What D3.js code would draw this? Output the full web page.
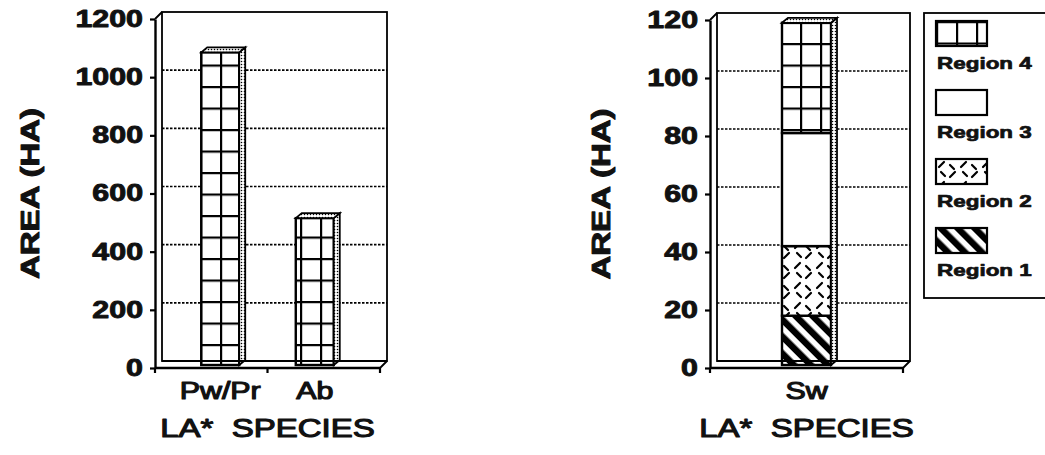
<!DOCTYPE html>
<html lang="en">
<head>
<meta charset="UTF-8" />
<title>LA* species - area by region</title>
<script src="https://d3js.org/d3.v7.min.js"></script>
<style>
    body { margin: 0; background: #fff; }
    text { font-family: "Liberation Sans", Arial, sans-serif; fill: #111; }
</style>
</head>
<body>
<script>
    // left panel: one series (region 4 pattern)
    var leftSpecies = ["Pw/Pr", "Ab"];
    var leftArea = [1075, 505];
    var leftTicks = [0, 200, 400, 600, 800, 1000, 1200];

    // right panel: stacked by region
    var rightSpecies = ["Sw"];
    var regions = ["Region 1", "Region 2", "Region 3", "Region 4"];
    var swArea = [17, 24, 39, 38];
    var rightTicks = [0, 20, 40, 60, 80, 100, 120];

    var w = 1045, h = 455;
    var depth = 7;        // back wall offset
    var bdx = 6, bdy = -5; // bar depth
    var barLift = 3;      // bars sit a little behind the front axis
    var k = 1.32;         // wide typeface look

    var svg = d3.select("body").append("svg")
        .attr("width", w).attr("height", h);
    svg.append("rect").attr("width", w).attr("height", h).attr("fill", "#fff");

    var defs = svg.append("defs");

    // patterns
    var p = defs.append("pattern").attr("id", "grid")
        .attr("patternUnits", "userSpaceOnUse").attr("width", 20).attr("height", 21.5);
    p.append("rect").attr("width", 20).attr("height", 21.5).attr("fill", "#fff");
    p.append("path").attr("d", "M0,1H20M1,0V21.5").attr("stroke", "#000").attr("stroke-width", 2.4);

    p = defs.append("pattern").attr("id", "stripes")
        .attr("patternUnits", "userSpaceOnUse").attr("width", 12).attr("height", 12)
        .attr("patternTransform", "rotate(-45)");
    p.append("rect").attr("width", 12).attr("height", 12).attr("fill", "#fff");
    p.append("rect").attr("width", 6.5).attr("height", 12).attr("fill", "#000");

    p = defs.append("pattern").attr("id", "dashes")
        .attr("patternUnits", "userSpaceOnUse").attr("width", 22).attr("height", 20);
    p.append("rect").attr("width", 22).attr("height", 20).attr("fill", "#fff");
    p.append("path").attr("d", "M3,8L8,3M14,6L18,10M5,13L9,17M14,18L19,13")
        .attr("stroke", "#000").attr("stroke-width", 2.2).attr("stroke-linecap", "round");

    p = defs.append("pattern").attr("id", "dots")
        .attr("patternUnits", "userSpaceOnUse").attr("width", 3).attr("height", 3);
    p.append("rect").attr("width", 3).attr("height", 3).attr("fill", "#fff");
    p.append("circle").attr("cx", 1.5).attr("cy", 1.5).attr("r", 0.8).attr("fill", "#000");

    var regionFill = {
        "Region 1": "url(#stripes)",
        "Region 2": "url(#dashes)",
        "Region 3": "#fff",
        "Region 4": "url(#grid)"
    };

    function stretch(sel) {
        sel.each(function () {
            var len = this.getComputedTextLength();
            d3.select(this).attr("textLength", len * k).attr("lengthAdjust", "spacingAndGlyphs");
        });
    }

    // heavy scanned lettering
    function ink(sel, sw) {
        sel.attr("stroke", "#111").attr("stroke-width", sw).attr("stroke-linejoin", "round");
    }

    function drawPanel(cfg) {
        var g = svg.append("g");
        var x = cfg.x, y = cfg.y;
        var x0 = x.range()[0], x1 = x.range()[1];
        var yb = y(0), yt = y(cfg.ticks[cfg.ticks.length - 1]);

        // back wall
        g.append("rect")
            .attr("x", x0 + depth).attr("y", yt - depth)
            .attr("width", x1 - x0).attr("height", yb - yt)
            .attr("fill", "none").attr("stroke", "#000").attr("stroke-width", 1.8);

        // dotted gridlines on the back wall
        g.selectAll(".gl").data(cfg.ticks.slice(1, -1)).enter().append("line")
            .attr("x1", x0 + depth).attr("x2", x1 + depth)
            .attr("y1", function (d) { return y(d) - depth; })
            .attr("y2", function (d) { return y(d) - depth; })
            .attr("stroke", "#000").attr("stroke-width", 1.6)
            .attr("stroke-dasharray", "2.5,1.5");

        // left wall / floor edges
        g.append("path")
            .attr("d", "M" + x0 + "," + yt + "L" + (x0 + depth) + "," + (yt - depth) +
                "M" + x1 + "," + yb + "L" + (x1 + depth) + "," + (yb - depth))
            .attr("stroke", "#000").attr("stroke-width", 1.8).attr("fill", "none");

        // bars
        cfg.bars.forEach(function (b) {
            var cx = x(b.cat) + x.bandwidth() / 2;
            var bx = cx - cfg.barWidth / 2;
            var bg = g.append("g");
            var top = 0;
            b.segs.forEach(function (s) {
                var ya = y(top) - barLift, yz = y(top + s.v) - barLift;
                bg.append("rect")
                    .attr("x", bx).attr("y", yz)
                    .attr("width", cfg.barWidth).attr("height", ya - yz)
                    .attr("fill", regionFill[s.region])
                    .attr("stroke", "#000").attr("stroke-width", 2.4);
                top += s.v;
            });
            var ytop = y(top) - barLift, ybot = y(0) - barLift, bxr = bx + cfg.barWidth;
            // side face
            bg.append("path")
                .attr("d", "M" + bxr + "," + ybot + "L" + (bxr + bdx) + "," + (ybot + bdy) +
                    "L" + (bxr + bdx) + "," + (ytop + bdy) + "L" + bxr + "," + ytop + "Z")
                .attr("fill", "url(#dots)").attr("stroke", "#000").attr("stroke-width", 1.8);
            // top face
            bg.append("path")
                .attr("d", "M" + bx + "," + ytop + "L" + (bx + bdx) + "," + (ytop + bdy) +
                    "L" + (bxr + bdx) + "," + (ytop + bdy) + "L" + bxr + "," + ytop + "Z")
                .attr("fill", "url(#dots)").attr("stroke", "#000").attr("stroke-width", 1.8);
        });

        // back floor line over bar bottoms
        g.append("line")
            .attr("x1", x0 + depth).attr("x2", x1 + depth)
            .attr("y1", yb - depth).attr("y2", yb - depth)
            .attr("stroke", "#000").attr("stroke-width", 1.8);

        // y axis (front)
        var ya = g.append("g").attr("transform", "translate(" + x0 + ",0)")
            .call(d3.axisLeft(y).tickValues(cfg.ticks).tickFormat(d3.format("d"))
                .tickSize(5).tickSizeOuter(0).tickPadding(7));
        ya.select(".domain").attr("stroke-width", 2.4);
        ya.selectAll(".tick line").attr("stroke-width", 2.2);
        ya.selectAll("text").attr("font-size", 23).attr("font-weight", "bold")
            .attr("font-family", "Liberation Sans, Arial, sans-serif").call(ink, 0.9).call(stretch);

        // x axis (front) with ticks at band edges
        g.append("line").attr("x1", x0).attr("x2", x1).attr("y1", yb).attr("y2", yb)
            .attr("stroke", "#000").attr("stroke-width", 2.4);
        var edges = [x0].concat(x.domain().slice(1).map(function (d) { return x(d); }), [x1]);
        g.selectAll(".xt").data(edges).enter().append("line")
            .attr("x1", function (d) { return d; }).attr("x2", function (d) { return d; })
            .attr("y1", yb).attr("y2", yb + 5)
            .attr("stroke", "#000").attr("stroke-width", 2.2);

        var xa = g.append("g").attr("transform", "translate(0," + yb + ")")
            .call(d3.axisBottom(x).tickSize(0).tickPadding(15));
        xa.select(".domain").remove();
        xa.selectAll("text").attr("font-size", 23)
            .attr("font-family", "Liberation Sans, Arial, sans-serif").call(ink, 1.1).call(stretch);

        // titles
        g.append("text")
            .attr("x", (x0 + x1) / 2).attr("y", 437)
            .attr("text-anchor", "middle").attr("font-size", 25)
            .text("LA*  SPECIES").style("white-space", "pre").call(ink, 1.1).call(stretch);

        g.append("text")
            .attr("transform", "translate(" + cfg.titleX + "," + ((yb + yt) / 2) + ") rotate(-90)")
            .attr("dy", "0.36em")
            .attr("text-anchor", "middle").attr("font-size", 25).attr("font-weight", "bold")
            .text("AREA (HA)").call(ink, 0.9).call(stretch);
    }

    // left panel
    var xLeft = d3.scaleBand().domain(leftSpecies).range([155, 380])
        .paddingInner(0).paddingOuter(0.19);
    var yLeft = d3.scaleLinear().domain([0, 1200]).range([368, 19]);
    drawPanel({
        x: xLeft, y: yLeft, ticks: leftTicks, barWidth: 38, titleX: 30,
        bars: leftSpecies.map(function (c, i) {
            return { cat: c, segs: [{ region: "Region 4", v: leftArea[i] }] };
        })
    });

    // right panel
    var xRight = d3.scaleBand().domain(rightSpecies).range([710, 903]);
    var yRight = d3.scaleLinear().domain([0, 120]).range([368, 20]);
    drawPanel({
        x: xRight, y: yRight, ticks: rightTicks, barWidth: 49, titleX: 601,
        bars: [{
            cat: "Sw",
            segs: regions.map(function (r, i) { return { region: r, v: swArea[i] }; })
        }]
    });

    // legend
    var lg = svg.append("g");
    lg.append("rect").attr("x", 924).attr("y", 13).attr("width", 140).attr("height", 285)
        .attr("fill", "#fff").attr("stroke", "#000").attr("stroke-width", 1.8);
    var items = regions.slice().reverse();
    var li = lg.selectAll(".li").data(items).enter().append("g")
        .attr("transform", function (d, i) { return "translate(936," + (21 + i * 69) + ")"; });
    li.append("rect").attr("width", 51).attr("height", 25)
        .attr("fill", function (d) { return regionFill[d]; })
        .attr("stroke", "#000").attr("stroke-width", 2.2);
    li.append("text").attr("x", 1).attr("y", 48)
        .attr("font-size", 17).attr("font-weight", "bold")
        .text(function (d) { return d; }).call(ink, 0.7).call(stretch);
</script>
</body>
</html>
